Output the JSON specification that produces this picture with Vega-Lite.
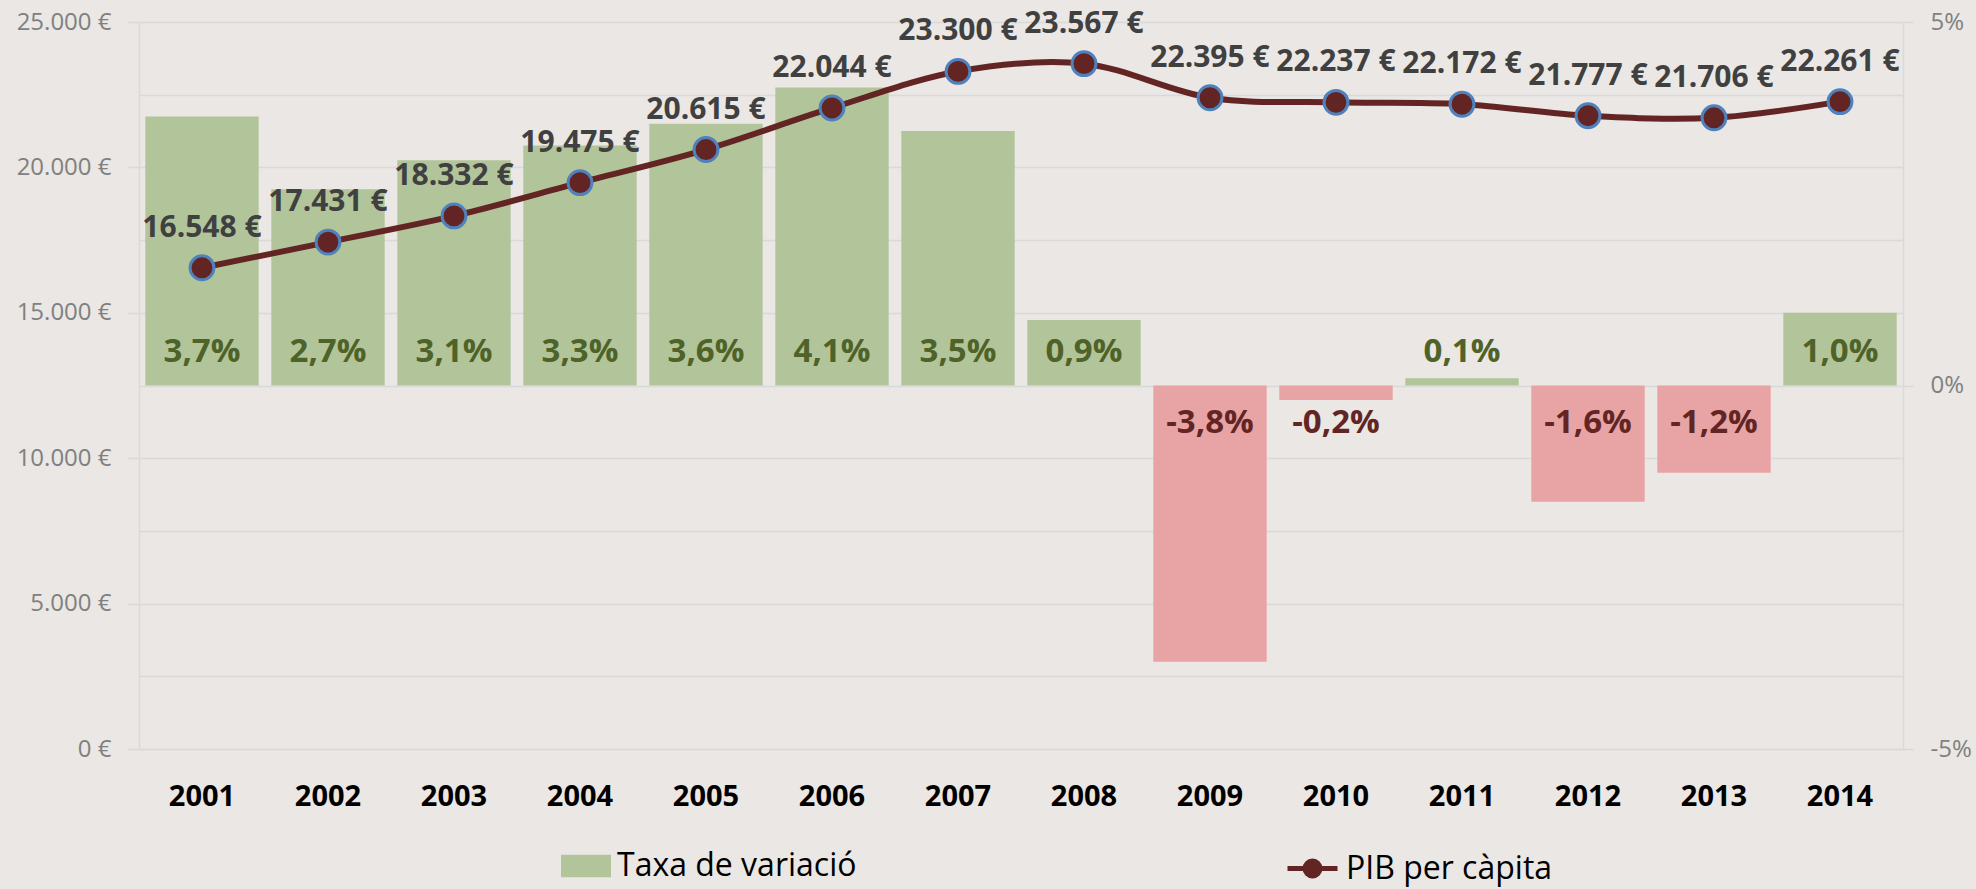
{
  "$schema": "https://vega.github.io/schema/vega-lite/v6.json",
  "width": 1764,
  "height": 727,
  "autosize": {"type": "none"},
  "padding": {"left": 139, "top": 22, "right": 73, "bottom": 140},
  "background": "#eae7e4",
  "config": {
    "view": {"stroke": null},
    "font": "Open Sans",
    "locale": {
      "number": {"decimal": ",", "thousands": ".", "grouping": [3], "currency": ["", " €"], "minus": "-", "percent": "%"}
    }
  },
  "data": {
    "values": [
      {"year": "2001", "pct": 0.037, "pib": 16548},
      {"year": "2002", "pct": 0.027, "pib": 17431},
      {"year": "2003", "pct": 0.031, "pib": 18332},
      {"year": "2004", "pct": 0.033, "pib": 19475},
      {"year": "2005", "pct": 0.036, "pib": 20615},
      {"year": "2006", "pct": 0.041, "pib": 22044},
      {"year": "2007", "pct": 0.035, "pib": 23300},
      {"year": "2008", "pct": 0.009, "pib": 23567},
      {"year": "2009", "pct": -0.038, "pib": 22395},
      {"year": "2010", "pct": -0.002, "pib": 22237},
      {"year": "2011", "pct": 0.001, "pib": 22172},
      {"year": "2012", "pct": -0.016, "pib": 21777},
      {"year": "2013", "pct": -0.012, "pib": 21706},
      {"year": "2014", "pct": 0.010, "pib": 22261}
    ]
  },
  "encoding": {
    "x": {
      "field": "year",
      "type": "ordinal",
      "scale": {"paddingInner": 0.1, "paddingOuter": 0.05},
      "axis": {
        "title": null,
        "labelAngle": 0,
        "labelFont": "Open Sans",
        "labelFontSize": 29,
        "labelFontWeight": "bold",
        "labelColor": "#000000",
        "labelPadding": 33,
        "ticks": false,
        "domain": true,
        "domainColor": "#d9d9d9",
        "domainWidth": 1.5,
        "grid": false
      }
    }
  },
  "layer": [
    {
      "mark": {"type": "rule", "strokeOpacity": 0},
      "encoding": {
        "y": {
          "datum": 0,
          "type": "quantitative",
          "scale": {"domain": [0, 25000], "nice": false, "zero": false},
          "axis": {
            "orient": "left",
            "title": null,
            "values": [0, 2500, 5000, 7500, 10000, 12500, 15000, 17500, 20000, 22500, 25000],
            "grid": true,
            "gridColor": "#d9d9d9",
            "gridWidth": 1.5,
            "labels": false,
            "ticks": false,
            "domain": false
          }
        }
      }
    },
    {
      "encoding": {
        "y": {
          "field": "pct",
          "type": "quantitative",
          "scale": {"domain": [-0.05, 0.05], "nice": false},
          "axis": {
            "orient": "right",
            "title": null,
            "values": [-0.05, 0, 0.05],
            "format": ".0%",
            "grid": false,
            "ticks": true,
            "tickSize": 10,
            "tickColor": "#d9d9d9",
            "tickWidth": 1.5,
            "domain": true,
            "domainColor": "#d9d9d9",
            "domainWidth": 1.5,
            "labelFont": "Open Sans",
            "labelFontSize": 24,
            "labelColor": "#808080",
            "labelPadding": 17
          }
        }
      },
      "layer": [
        {
          "transform": [{"filter": "datum.pct >= 0"}],
          "mark": {"type": "bar"},
          "encoding": {
            "fill": {
              "datum": "Taxa de variació",
              "scale": {"range": ["#b2c59a"]},
              "legend": {
                "title": null,
                "orient": "none",
                "legendX": 422,
                "legendY": 819,
                "symbolType": "M-1,-0.45H1V0.45H-1Z",
                "symbolSize": 2500,
                "symbolStrokeWidth": 0,
                "labelFont": "Open Sans",
                "labelFontSize": 32,
                "labelColor": "#000000",
                "labelOffset": 6,
                "labelLimit": 0
              }
            }
          }
        },
        {
          "transform": [{"filter": "datum.pct < 0"}],
          "mark": {"type": "bar", "fill": "#e8a4a4"}
        },
        {
          "transform": [{"filter": "datum.pct >= 0"}],
          "mark": {"type": "text", "baseline": "middle", "dy": -34, "font": "Open Sans", "fontSize": 33, "fontWeight": "bold", "fill": "#4f6228"},
          "encoding": {
            "y": {"datum": 0, "type": "quantitative"},
            "text": {"field": "pct", "type": "quantitative", "format": ".1%"}
          }
        },
        {
          "transform": [{"filter": "datum.pct < 0"}],
          "mark": {"type": "text", "baseline": "middle", "dy": 37, "font": "Open Sans", "fontSize": 33, "fontWeight": "bold", "fill": "#632523"},
          "encoding": {
            "y": {"datum": 0, "type": "quantitative"},
            "text": {"field": "pct", "type": "quantitative", "format": ".1%"}
          }
        }
      ]
    },
    {
      "encoding": {
        "y": {
          "field": "pib",
          "type": "quantitative",
          "scale": {"domain": [0, 25000], "nice": false},
          "axis": {
            "orient": "left",
            "title": null,
            "values": [0, 5000, 10000, 15000, 20000, 25000],
            "format": "$,.0f",
            "grid": false,
            "ticks": true,
            "tickSize": 11,
            "tickColor": "#d9d9d9",
            "tickWidth": 1.5,
            "domain": true,
            "domainColor": "#d9d9d9",
            "domainWidth": 1.5,
            "labelFont": "Open Sans",
            "labelFontSize": 24,
            "labelColor": "#808080",
            "labelPadding": 17
          }
        }
      },
      "layer": [
        {
          "mark": {"type": "line", "interpolate": "cardinal", "strokeWidth": 6},
          "encoding": {
            "stroke": {
              "datum": "PIB per càpita",
              "scale": {"range": ["#632523"]},
              "legend": {
                "title": null,
                "orient": "none",
                "legendX": 1146,
                "legendY": 819,
                "symbolType": "M-1,0H-0.3M0.3,0H1M0.3,0A0.3,0.3 0 1,1 -0.3,0A0.3,0.3 0 1,1 0.3,0Z",
                "symbolSize": 2500,
                "symbolStrokeWidth": 5,
                "symbolFillColor": "#632523",
                "labelFont": "Open Sans",
                "labelFontSize": 32,
                "labelColor": "#000000",
                "labelOffset": 6,
                "labelLimit": 0
              }
            }
          }
        },
        {
          "mark": {"type": "circle", "size": 570, "fill": "#632523", "stroke": "#4f81bd", "strokeWidth": 3, "opacity": 1}
        },
        {
          "mark": {"type": "text", "baseline": "middle", "dy": -40, "font": "Open Sans", "fontSize": 30, "fontWeight": "bold", "fill": "#404040"},
          "encoding": {
            "text": {"field": "pib", "type": "quantitative", "format": "$,.0f"}
          }
        }
      ]
    }
  ],
  "resolve": {"scale": {"y": "independent"}}
}
